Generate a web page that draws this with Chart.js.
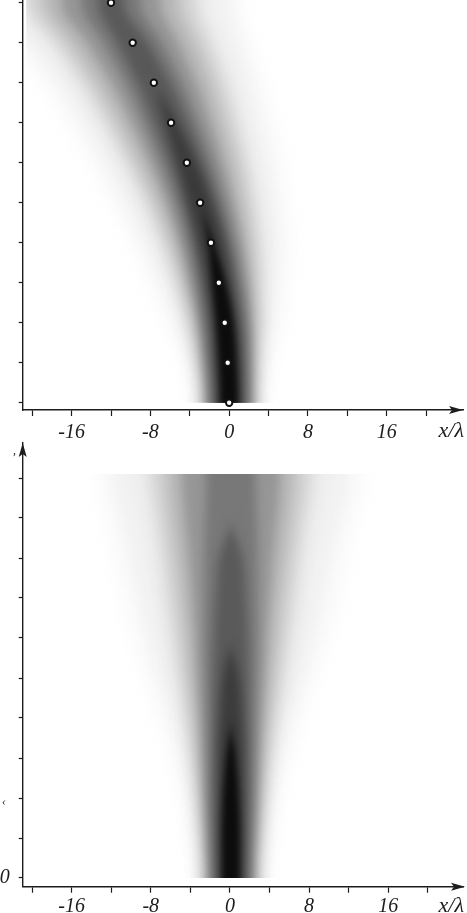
<!DOCTYPE html>
<html>
<head>
<meta charset="utf-8">
<style>
    html, body { margin: 0; padding: 0; background: #fff; overflow: hidden; }
    .plot { position: absolute; left: 0; width: 467px; }
    #top-wrap { top: 0; height: 438px; }
    #bottom-wrap { top: 438px; height: 475px; }
</style>
<script src="https://cdn.jsdelivr.net/npm/chart.js@4/dist/chart.umd.min.js"></script>
</head>
<body>
<div class="plot" id="top-wrap"><canvas id="chart-top"></canvas></div>
<div class="plot" id="bottom-wrap"><canvas id="chart-bottom"></canvas></div>
<script>
var rows = [0, 1, 2, 3, 4, 5, 6, 7, 8, 9, 10];
var xTicks = [-20, -16, -12, -8, -4, 0, 4, 8, 12, 16, 20];
var xLabels = ['', '-16', '', '-8', '', '0', '', '8', '', '16', ''];
var bottomRowLabels = ['0', '', '', '', '', '', '', '', '', '', ''];

// white dots on the upper plot (centre of the beam), x/lambda per row
var beamCentre = [0, -0.15, -0.45, -1.05, -1.85, -2.95, -4.3, -5.9, -7.65, -9.8, -12];
var straightCentre = [0.1, 0.1, 0.1, 0.1, 0.1, 0.1, 0.1, 0.1, 0.1, 0.1, 0.1];

// grey of each contour, outermost first
var levels = [250, 240, 210, 180, 150, 120, 90, 60, 12];
var levelBlur = [10, 9, 8, 7, 5, 5, 5, 4, 3];

// half width of each contour per row
var topWidth250 = [3.2, 4.2, 5.8, 7.0, 8.0, 8.9, 9.7, 10.5, 11.2, 12.0, 13.2];
var topWidth240 = [3.1, 3.7, 4.8, 5.8, 6.8, 7.6, 8.3, 9.0, 9.8, 10.8, 12.0];
var topWidth210 = [2.9, 3.2, 3.8, 4.4, 5.0, 5.6, 6.2, 6.8, 7.4, 8.0, 8.8];
var topWidth180 = [2.6, 2.8, 3.2, 3.6, 4.0, 4.4, 4.9, 5.3, 5.8, 6.3, 6.8];
var topWidth150 = [2.3, 2.5, 2.7, 3.0, 3.2, 3.4, 3.7, 4.0, 4.3, 4.6, 5.0];
var topWidth120 = [2.0, 2.1, 2.3, 2.4, 2.5, 2.6, 2.7, 2.8, 2.9, 3.0, 3.0];
var topWidth90 = [1.6, 1.7, 1.8, 1.8, 1.8, 1.8, 1.8, 1.8, 1.7, 1.6, 1.3];
var topWidth60 = [1.2, 1.3, 1.3, 1.3, 1.3, 1.2, 1.0, 0.6, 0, 0, 0];
var topWidth12 = [0.9, 0.9, 0.9, 0.7, 0.3, 0, 0, 0, 0, 0, 0];

// same for the lower plot
var bottomWidth250 = [3.2, 4.1, 4.8, 5.9, 7.2, 8.6, 9.9, 11.0, 11.8, 12.6, 13.4];
var bottomWidth240 = [3.1, 3.6, 4.1, 4.9, 6.0, 7.2, 8.3, 9.2, 10.0, 10.9, 11.8];
var bottomWidth210 = [2.9, 3.1, 3.5, 4.0, 4.6, 5.3, 5.9, 6.5, 7.0, 7.6, 8.2];
var bottomWidth180 = [2.6, 2.8, 3.1, 3.4, 3.8, 4.2, 4.6, 5.0, 5.5, 6.0, 6.4];
var bottomWidth150 = [2.3, 2.5, 2.7, 2.9, 3.1, 3.4, 3.6, 3.9, 4.2, 4.6, 4.9];
var bottomWidth120 = [2.0, 2.1, 2.3, 2.4, 2.5, 2.6, 2.7, 2.7, 2.7, 2.6, 2.5];
var bottomWidth90 = [1.6, 1.7, 1.8, 1.8, 1.8, 1.8, 1.7, 1.5, 1.2, 0, 0];
var bottomWidth60 = [1.2, 1.3, 1.3, 1.3, 1.1, 0.8, 0, 0, 0, 0, 0];
var bottomWidth12 = [0.9, 0.9, 0.8, 0.5, 0, 0, 0, 0, 0, 0, 0];

var topWidths = [topWidth250, topWidth240, topWidth210, topWidth180, topWidth150, topWidth120, topWidth90, topWidth60, topWidth12];
var bottomWidths = [bottomWidth250, bottomWidth240, bottomWidth210, bottomWidth180, bottomWidth150, bottomWidth120, bottomWidth90, bottomWidth60, bottomWidth12];

var serif = '"Liberation Serif", "DejaVu Serif", serif';
var ink = '#1c1c1c';

// one edge of a contour, carried one row past both ends so the blur has no soft end
function edge(centre, width, side) {
    var pts = rows.map(function (r, i) {
        return { x: centre[i] + side * width[i], y: r };
    });
    pts.unshift({ x: pts[0].x, y: rows[0] - 1 });
    pts.push({ x: pts[pts.length - 1].x, y: rows[rows.length - 1] + 1 });
    return pts;
}

function buildDatasets(centre, widths, markers) {
    var sets = [{
        label: 'centre',
        data: markers,
        showLine: false,
        fill: false,
        clip: false,
        pointRadius: 3.2,
        borderWidth: 2,
        pointBackgroundColor: '#fff',
        pointBorderColor: '#111'
    }];
    // innermost first: chart.js paints the last dataset first
    for (var i = levels.length - 1; i >= 0; i--) {
        var g = levels[i];
        var colour = 'rgb(' + g + ',' + g + ',' + g + ')';
        var common = { borderWidth: 0, pointRadius: 0, cubicInterpolationMode: 'monotone' };
        sets.push(Object.assign({ data: edge(centre, widths[i], -1), fill: '+1', backgroundColor: colour, borderColor: colour }, common));
        sets.push(Object.assign({ data: edge(centre, widths[i], 1), fill: false, borderColor: colour }, common));
    }
    return sets;
}

function drawArrow(ctx, tipX, tipY, dirX, dirY) {
    var nx = -dirY, ny = dirX;
    ctx.beginPath();
    ctx.moveTo(tipX, tipY);
    ctx.lineTo(tipX - dirX * 14 + nx * 4, tipY - dirY * 14 + ny * 4);
    ctx.lineTo(tipX - dirX * 11, tipY - dirY * 11);
    ctx.lineTo(tipX - dirX * 14 - nx * 4, tipY - dirY * 14 - ny * 4);
    ctx.closePath();
    ctx.fill();
}

function makeChart(id, cfg) {
    var beamPlugin = {
        id: 'beam',
        beforeDatasetsDraw: function (chart) {
            var a = chart.chartArea, ctx = chart.ctx;
            var top = chart.scales.y.getPixelForValue(cfg.beamTop);
            var bottom = chart.scales.y.getPixelForValue(0);
            var left = chart.scales.x.getPixelForValue(cfg.beamLeft);
            ctx.save();
            ctx.beginPath();
            ctx.rect(left, top, a.right - left, bottom - top);
            ctx.clip();
        },
        beforeDatasetDraw: function (chart, args) {
            if (args.index === 0) {
                chart.ctx.restore();
            } else if (args.index % 2 === 0) {
                // right edge comes just before its left edge, which does the fill
                var i = levels.length - 1 - (args.index - 2) / 2;
                chart.ctx.filter = 'blur(' + levelBlur[i] + 'px)';
            }
        },
        afterDraw: function (chart) {
            var ctx = chart.ctx, a = chart.chartArea;
            ctx.save();
            ctx.fillStyle = ink;
            drawArrow(ctx, cfg.arrowRight, a.bottom, 1, 0);
            if (cfg.yArrow) {
                drawArrow(ctx, a.left, a.top, 0, -1);
            }
            ctx.font = 'italic 22px ' + serif;
            ctx.textAlign = 'right';
            ctx.textBaseline = 'alphabetic';
            ctx.fillText('x/\u03bb', 464, a.bottom + cfg.unitDrop);
            (cfg.fragments || []).forEach(function (f) {
                ctx.font = 'italic 12px ' + serif;
                ctx.textAlign = 'left';
                ctx.fillText(f.text, f.x, f.y);
            });
            ctx.restore();
        }
    };

    return new Chart(document.getElementById(id), {
        type: 'line',
        data: { datasets: buildDatasets(cfg.centre, cfg.widths, cfg.markers) },
        plugins: [beamPlugin],
        options: {
            indexAxis: 'y',
            responsive: true,
            maintainAspectRatio: false,
            animation: false,
            layout: { autoPadding: false, padding: { top: cfg.padTop, right: 4, bottom: 0, left: 0 } },
            plugins: { legend: { display: false }, tooltip: { enabled: false } },
            scales: {
                x: {
                    type: 'linear',
                    min: cfg.xMin,
                    max: cfg.xMax,
                    afterBuildTicks: function (scale) {
                        scale.ticks = xTicks.map(function (v) { return { value: v }; });
                    },
                    afterFit: function (scale) {
                        scale.height = cfg.xAxisHeight;
                        scale.paddingLeft = 0;
                        scale.paddingRight = 0;
                    },
                    border: { color: ink, width: 1.4 },
                    grid: { drawOnChartArea: false, drawTicks: true, tickLength: 6, tickColor: ink, tickWidth: 1.2 },
                    ticks: {
                        autoSkip: false,
                        maxRotation: 0,
                        padding: cfg.labelPad,
                        color: ink,
                        font: { family: serif, size: 20, style: 'italic' },
                        callback: function (v) { return xLabels[xTicks.indexOf(v)]; }
                    }
                },
                y: {
                    type: 'linear',
                    min: cfg.yMin,
                    max: cfg.yMax,
                    afterBuildTicks: function (scale) {
                        scale.ticks = rows.map(function (v) { return { value: v }; });
                    },
                    afterFit: function (scale) {
                        scale.width = 22.7;
                        scale.paddingTop = 0;
                        scale.paddingBottom = 0;
                    },
                    border: { color: ink, width: 1.4 },
                    grid: { drawOnChartArea: false, drawTicks: true, tickLength: 4, tickColor: ink, tickWidth: 1.2 },
                    ticks: {
                        autoSkip: false,
                        padding: 9,
                        color: ink,
                        font: { family: serif, size: 20, style: 'italic' },
                        callback: function (v) { return cfg.rowLabels ? cfg.rowLabels[rows.indexOf(v)] : ''; }
                    }
                }
            }
        }
    });
}

var topMarkers = rows.map(function (r, i) { return { x: beamCentre[i], y: r }; });

makeChart('chart-top', {
    centre: beamCentre,
    widths: topWidths,
    markers: topMarkers,
    padTop: 0,
    xMin: -20.97, xMax: 23.75,
    yMin: -0.1825, yMax: 10.0675,
    xAxisHeight: 28,
    labelPad: 5,
    beamTop: 10.0675,
    beamLeft: -20.6,
    arrowRight: 463,
    yArrow: false,
    unitDrop: 27
});

makeChart('chart-bottom', {
    centre: straightCentre,
    widths: bottomWidths,
    markers: [],
    padTop: 5,
    xMin: -20.94, xMax: 23.55,
    yMin: -0.2175, yMax: 10.875,
    xAxisHeight: 475 - 448.7,
    labelPad: 2,
    beamTop: 10.1,
    beamLeft: -20.6,
    arrowRight: 465,
    yArrow: true,
    unitDrop: 25,
    rowLabels: bottomRowLabels,
    fragments: [{ text: ',', x: 13, y: 16 }, { text: '\u2039', x: 2, y: 367 }]
});
</script>
</body>
</html>
